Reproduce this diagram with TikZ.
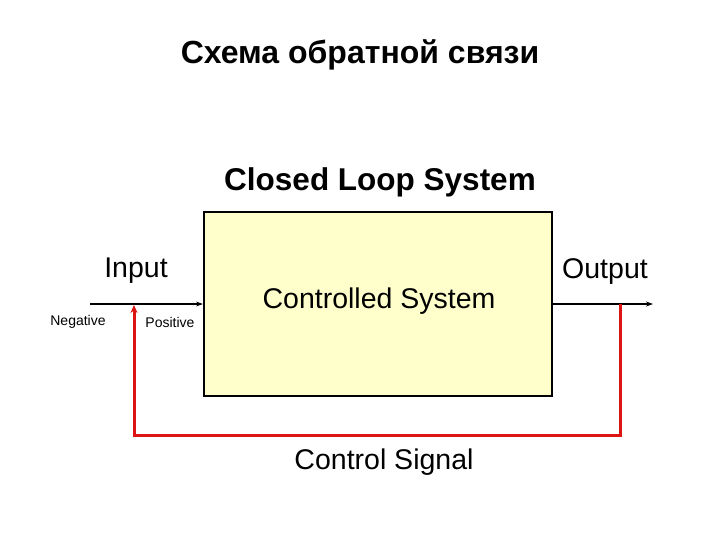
\documentclass[tikz,border=0pt]{standalone}
\usepackage{fontspec}
\setmainfont{Liberation Sans}
\usetikzlibrary{arrows.meta}
\definecolor{boxfill}{RGB}{255,255,204}
\definecolor{fbred}{RGB}{220,20,20}
\tikzset{
  lbl/.style={inner sep=0pt, font=\fontsize{28.5}{30}\selectfont},
  small/.style={inner sep=0pt, font=\fontsize{14}{16}\selectfont},
  sysbox/.style={draw=black, line width=2.2pt, fill=boxfill, minimum width=348pt, minimum height=184pt, inner sep=0pt},
  sig/.style={line width=1.6pt, -{Stealth[length=7pt,width=5pt]}},
  fb/.style={draw=fbred, line width=3pt, -{Stealth[length=8pt,width=7pt]}}
}
\begin{document}
\begin{tikzpicture}[x=1pt,y=-1pt]
\useasboundingbox (0,0) rectangle (720,540);
\node[inner sep=0pt, font=\fontsize{32}{34}\bfseries\selectfont] (title) at (360,55) {Схема обратной связи};
\node[inner sep=0pt, font=\fontsize{31.5}{33}\bfseries\selectfont] (cls) at (380,182) {Closed Loop System};
\node[sysbox] (sys) at (378,304) {};
\node[lbl] (ctl) at (379,301) {Controlled System};
\node[lbl] (inp) at (136,271) {Input};
\node[lbl] (outp) at (605,272) {Output};
\node[lbl] (csig) at (384,462) {Control Signal};
\node[small] (neg) at (78,322) {Negative};
\node[small] (pos) at (170,322) {Positive};
\coordinate (inL) at (90,304);
\coordinate (outR) at (653,304);
\coordinate (tap) at (620,304);
\coordinate (fbend) at (134,305);
\draw[sig] (inL) -- (sys.west);
\draw[sig] (sys.east) -- (outR);
\draw[fb] (tap) -- (620,435) -| (fbend);
\end{tikzpicture}
\end{document}
